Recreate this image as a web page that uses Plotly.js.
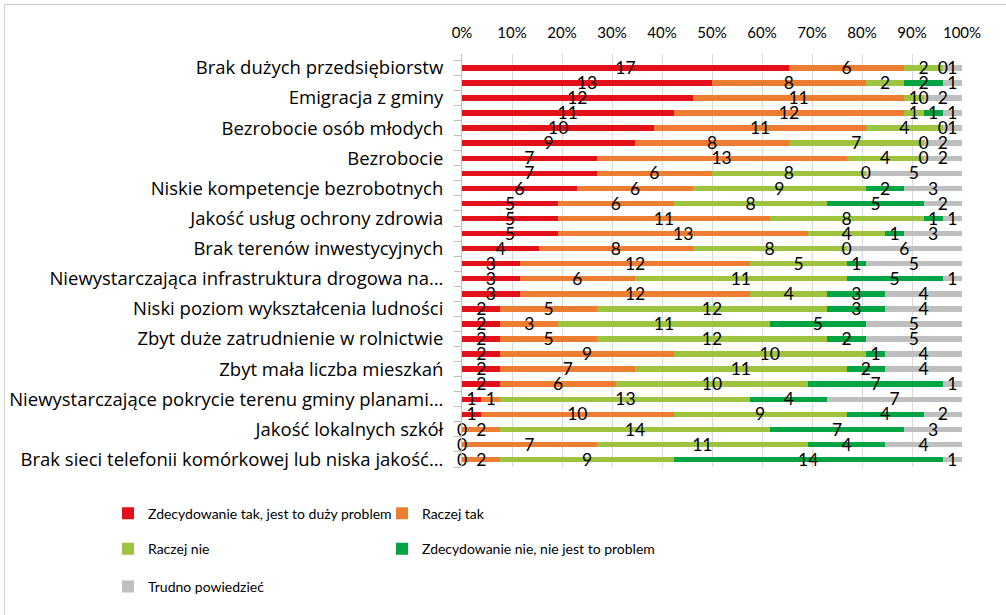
<!DOCTYPE html>
<html><head><meta charset="utf-8">
<script src="https://cdn.plot.ly/plotly-3.0.1.min.js"></script>
<style>
html,body{margin:0;padding:0;background:#fff;}
#chart{width:1006px;height:615px;}
#frame{position:absolute;left:4px;top:4px;width:1010px;height:620px;border-left:1px solid #d0d0d0;border-top:1px solid #d0d0d0;pointer-events:none;}
</style>
</head><body>
<div id="chart"></div><div id="frame"></div>
<script>
// ---- data ----
const seriesNames = [
  "Zdecydowanie tak, jest to duży problem",
  "Raczej tak",
  "Raczej nie",
  "Zdecydowanie nie, nie jest to problem",
  "Trudno powiedzieć"
];
const zdecydowanieTak = [17,13,12,11,10,9,7,7,6,5,5,5,4,3,3,3,2,2,2,2,2,2,1,1,0,0,0];
const raczejTak       = [6,8,11,12,11,8,13,6,6,6,11,13,8,12,6,12,5,3,5,9,7,6,1,10,2,7,2];
const raczejNie       = [2,2,1,1,4,7,4,8,9,8,8,4,8,5,11,4,12,11,12,10,11,10,13,9,14,11,9];
const zdecydowanieNie = [0,2,0,1,0,0,0,0,2,5,1,1,0,1,5,3,3,5,2,1,2,7,4,4,7,4,14];
const trudnoPowiedziec= [1,1,2,1,1,2,2,5,3,2,1,3,6,5,1,4,4,5,5,4,4,1,7,2,3,4,1];

// tick labels shown on the axis (every second row is labelled)
const labelRows = [0,2,4,6,8,10,12,14,16,18,20,22,24,26];
const labelTexts = [
  "Brak dużych przedsiębiorstw",
  "Emigracja z gminy",
  "Bezrobocie osób młodych",
  "Bezrobocie",
  "Niskie kompetencje bezrobotnych",
  "Jakość usług ochrony zdrowia",
  "Brak terenów inwestycyjnych",
  "Niewystarczająca infrastruktura drogowa na…",
  "Niski poziom wykształcenia ludności",
  "Zbyt duże zatrudnienie w rolnictwie",
  "Zbyt mała liczba mieszkań",
  "Niewystarczające pokrycie terenu gminy planami…",
  "Jakość lokalnych szkół",
  "Brak sieci telefonii komórkowej lub niska jakość…"
];

// ---- styling ----
const colors = ["#E3101A","#ED7D31","#9DC33F","#00A443","#BFBFBF"];
const legendIds = ["legend","legend2","legend3","legend4","legend5"];
const legendPos = [[-0.708,-0.1127],[-0.16,-0.1127],[-0.708,-0.1992],[-0.16,-0.1992],[-0.708,-0.2902]];
const FONT = "Lato, 'Open Sans', sans-serif";
const LABEL_FONT = "'Open Sans', Lato, sans-serif";
const LABEL_DY = 0.12;

const series = [zdecydowanieTak, raczejTak, raczejNie, zdecydowanieNie, trudnoPowiedziec];
const nRows = zdecydowanieTak.length;
const rows = Array.from({length:nRows}, (_,i)=>i);

const traces = series.map((vals, s) => ({
  type: 'bar', orientation: 'h',
  x: vals, y: rows,
  name: seriesNames[s],
  marker: {color: colors[s], line:{width:0}},
  legend: legendIds[s],
  hoverinfo: 'x+name'
}));

// data labels: centre of each stacked segment (as a share of the row total)
const tx = [], ty = [], tt = [];
for (let i = 0; i < nRows; i++) {
  const total = series.reduce((a, arr) => a + arr[i], 0);
  let cum = 0;
  for (let s = 0; s < series.length; s++) {
    const v = series[s][i];
    tx.push((cum + v / 2) / total * 100);
    ty.push(i + LABEL_DY);
    tt.push(String(v));
    cum += v;
  }
}
traces.push({
  type: 'scatter', mode: 'text', x: tx, y: ty, text: tt,
  textposition: 'middle center',
  textfont: {family: FONT, size: 17.5, color: '#000'},
  showlegend: false, hoverinfo: 'skip', cliponaxis: false
});

const boundaries = Array.from({length:nRows+1}, (_,i)=>i-0.5);

const layout = {
  width: 1006, height: 615,
  margin: {l: 462, r: 44, t: 54, b: 144, pad: 0},
  paper_bgcolor: '#fff', plot_bgcolor: '#fff',
  barmode: 'stack', barnorm: 'percent', bargap: 0.64,
  showlegend: true,
  xaxis: {
    side: 'top', range: [0, 100], dtick: 10, tick0: 0, ticksuffix: '%',
    showgrid: true, gridcolor: '#d9d9d9', gridwidth: 1,
    zeroline: false, showline: false, ticks: '',
    tickfont: {family: FONT, size: 15, color: '#000'},
    ticklabelstandoff: 12, fixedrange: true
  },
  yaxis: {
    range: [nRows - 0.5, -0.92],
    tickmode: 'array', tickvals: labelRows, ticktext: labelTexts,
    ticks: '', showgrid: false, zeroline: false,
    showline: true, linecolor: '#bfbfbf', linewidth: 1,
    tickfont: {family: LABEL_FONT, size: 18.5, color: '#000'},
    ticklabelstandoff: 14,
    minor: {tickmode: 'array', tickvals: boundaries, ticks: 'outside', ticklen: 7, tickcolor: '#bfbfbf', tickwidth: 1, showgrid: false},
    fixedrange: true
  }
};
legendIds.forEach((id, k) => {
  layout[id] = {
    orientation: 'h', x: legendPos[k][0], xanchor: 'left', y: legendPos[k][1], yanchor: 'middle',
    font: {family: FONT, size: 14, color: '#000'},
    bgcolor: 'rgba(0,0,0,0)'
  };
});

Plotly.newPlot('chart', traces, layout, {displayModeBar: false, staticPlot: true});
</script>
</body></html>
